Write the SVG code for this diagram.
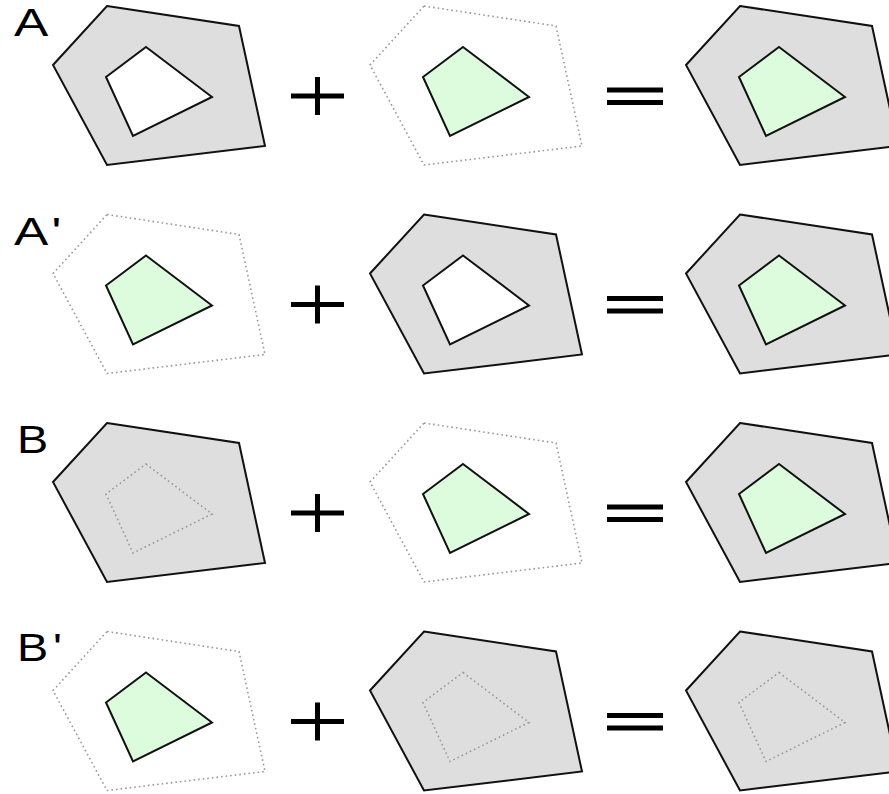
<svg xmlns="http://www.w3.org/2000/svg" xmlns:xlink="http://www.w3.org/1999/xlink" width="889" height="794" viewBox="0 0 889 794">
<style>
.outer{fill:#dedede;stroke:#111;stroke-width:2;stroke-linejoin:miter}
.hole{fill:#fff;stroke:#111;stroke-width:2}
.green{fill:#ddfcdd;stroke:#111;stroke-width:2}
.dot{fill:none;stroke:#999;stroke-width:1.6;stroke-dasharray:1.6,3}
.op{stroke:#000;stroke-width:5;fill:none}
.lbl{font-family:"Liberation Sans",Arial,sans-serif;font-size:39px;fill:#000}
</style>
<defs>
<polygon id="pent" points="107,6 239,26 265,146 107,165 53,65"/>
<polygon id="quad" points="146,47 212,97 133,136 106,77"/>
</defs>
<rect width="889" height="794" fill="#fff"/>
<g id="labels">
<text class="lbl" transform="translate(14,36) scale(1.32,1)">A</text>
<text class="lbl" transform="translate(14,245) scale(1.32,1)">A<tspan dx="2.5">'</tspan></text>
<text class="lbl" transform="translate(17,453) scale(1.2,1)">B</text>
<text class="lbl" transform="translate(17,661) scale(1.2,1)">B<tspan dx="4">'</tspan></text>
</g>
<g id="operators">
<g transform="translate(0,0)"><path class="op" d="M291,96H344M317.5,77V115"/><path class="op" d="M607,90H663M607,102.5H663"/></g>
<g transform="translate(0,208.5)"><path class="op" d="M291,96H344M317.5,77V115"/><path class="op" d="M607,90H663M607,102.5H663"/></g>
<g transform="translate(0,417)"><path class="op" d="M291,96H344M317.5,77V115"/><path class="op" d="M607,90H663M607,102.5H663"/></g>
<g transform="translate(0,625.5)"><path class="op" d="M291,96H344M317.5,77V115"/><path class="op" d="M607,90H663M607,102.5H663"/></g>
</g>
<g id="A1" transform="translate(0,0)"><use xlink:href="#pent" class="outer"/><use xlink:href="#quad" class="hole"/></g>
<g id="A2" transform="translate(317,0)"><use xlink:href="#pent" class="dot"/><use xlink:href="#quad" class="green"/></g>
<g id="A3" transform="translate(633,0)"><use xlink:href="#pent" class="outer"/><use xlink:href="#quad" class="green"/></g>
<g id="Ap1" transform="translate(0,208.5)"><use xlink:href="#pent" class="dot"/><use xlink:href="#quad" class="green"/></g>
<g id="Ap2" transform="translate(317,208.5)"><use xlink:href="#pent" class="outer"/><use xlink:href="#quad" class="hole"/></g>
<g id="Ap3" transform="translate(633,208.5)"><use xlink:href="#pent" class="outer"/><use xlink:href="#quad" class="green"/></g>
<g id="B1" transform="translate(0,417)"><use xlink:href="#pent" class="outer"/><use xlink:href="#quad" class="dot"/></g>
<g id="B2" transform="translate(317,417)"><use xlink:href="#pent" class="dot"/><use xlink:href="#quad" class="green"/></g>
<g id="B3" transform="translate(633,417)"><use xlink:href="#pent" class="outer"/><use xlink:href="#quad" class="green"/></g>
<g id="Bp1" transform="translate(0,625.5)"><use xlink:href="#pent" class="dot"/><use xlink:href="#quad" class="green"/></g>
<g id="Bp2" transform="translate(317,625.5)"><use xlink:href="#pent" class="outer"/><use xlink:href="#quad" class="dot"/></g>
<g id="Bp3" transform="translate(633,625.5)"><use xlink:href="#pent" class="outer"/><use xlink:href="#quad" class="dot"/></g>
</svg>
